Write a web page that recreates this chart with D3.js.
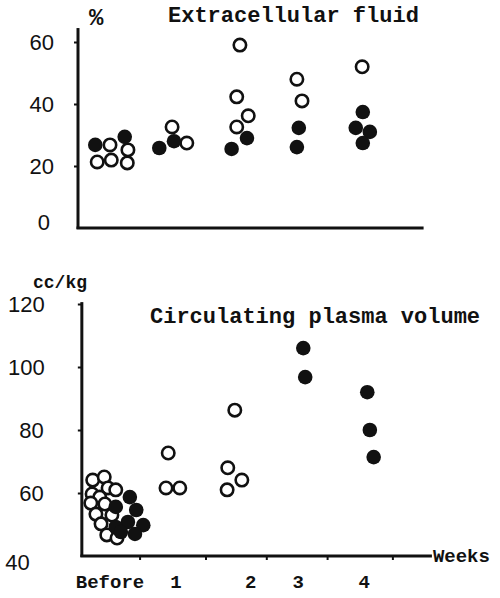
<!DOCTYPE html>
<html>
<head>
<meta charset="utf-8">
<script src="https://cdn.jsdelivr.net/npm/d3@7"></script>
<style>
  html, body { margin: 0; padding: 0; background: #fff; }
  svg { display: block; }
  .num { font-family: "Liberation Sans", "DejaVu Sans", sans-serif; font-size: 22px; fill: #111; }
  .type { font-family: "Liberation Mono", "DejaVu Sans Mono", monospace; font-weight: bold; fill: #111; }
</style>
</head>
<body>
<script>
// Extracellular fluid (% of body weight): [week, value]
const ecfOpen = [
  [0.00, 26.8], [0.28, 25.2], [-0.20, 21.3], [0.02, 21.9], [0.27, 21.0],
  [0.97, 32.6], [1.20, 27.4],
  [2.03, 59.0], [1.98, 42.3], [2.16, 36.2], [1.98, 32.6],
  [2.92, 48.0], [3.00, 41.0],
  [3.94, 52.0]
];
const ecfFilled = [
  [-0.23, 26.8], [0.23, 29.4],
  [1.00, 28.0], [0.77, 25.8],
  [2.14, 29.0], [1.90, 25.5],
  [2.95, 32.3], [2.92, 26.1],
  [3.95, 37.4], [3.84, 32.3], [4.06, 31.0], [3.95, 27.4]
];

// Circulating plasma volume (cc/kg): [week, value]
const cpvOpen = [
  [-0.27, 64.1], [-0.09, 65.1], [-0.03, 61.6], [-0.28, 59.7], [-0.16, 58.7],
  [0.09, 61.0], [-0.08, 56.5], [-0.30, 56.8], [-0.22, 53.3], [0.03, 53.0],
  [-0.14, 50.2], [-0.05, 46.7], [0.11, 45.7],
  [0.91, 72.7], [0.875, 61.6], [1.09, 61.6],
  [1.95, 86.3], [1.84, 68.0], [1.83, 61.0], [2.06, 64.1]
];
const cpvFilled = [
  [0.31, 58.7], [0.09, 55.6], [0.41, 54.6], [0.28, 50.8], [0.09, 49.2],
  [0.52, 49.8], [0.17, 47.6], [0.39, 47.0],
  [3.02, 106.0], [3.05, 96.8],
  [4.02, 92.0], [4.06, 80.0], [4.12, 71.4]
];

// Axis ticks and labels
const ecfTicks = [0, 20, 40, 60];
const cpvTicks = [40, 60, 80, 100, 120];
const weekLabels = ["Before", "1", "2", "3", "4"];
const weekLabelAt = [0.0, 1.03, 2.2, 2.94, 3.97];
const weekMinorTicks = [0.47, 1.5, 2.45, 3.4, 4.42];

const W = 500, H = 598;
const svg = d3.select("body").append("svg").attr("width", W).attr("height", H);

// Shared horizontal scale in weeks
const x = d3.scaleLinear().domain([0, 4]).range([110, 366]);

const yTop = d3.scaleLinear().domain([0, 60]).range([228, 42]);
const yBot = d3.scaleLinear().domain([40, 120]).range([556, 304]);

const R = 7;

function panel(y, yTicks, yTop0, xLeft, xRight, pad, open, filled) {
  const g = svg.append("g");
  const ax = x(xLeft);
  // vertical axis line
  g.append("line")
    .attr("x1", ax).attr("x2", ax)
    .attr("y1", y(y.domain()[0]) + 1).attr("y2", y(yTop0))
    .attr("stroke", "#111").attr("stroke-width", 3);
  // horizontal axis line
  g.append("line")
    .attr("x1", ax - 1.5).attr("x2", x(xRight))
    .attr("y1", y(y.domain()[0])).attr("y2", y(y.domain()[0]))
    .attr("stroke", "#111").attr("stroke-width", 3);

  const axis = d3.axisLeft(y).tickValues(yTicks).tickSize(4).tickSizeOuter(0).tickPadding(pad)
    .tickFormat(d3.format("d"));
  const ag = g.append("g").attr("transform", `translate(${ax},0)`).call(axis);
  ag.select(".domain").remove();
  ag.selectAll(".tick line").attr("stroke", "#111").attr("stroke-width", 2);
  ag.selectAll(".tick text").attr("class", "num").attr("fill", null);
  ag.selectAll(".tick").filter(d => d === y.domain()[0]).select("line").remove();

  g.selectAll("circle.open").data(open).join("circle")
    .attr("class", "open")
    .attr("cx", d => x(d[0])).attr("cy", d => y(d[1])).attr("r", R - 0.8)
    .attr("fill", "#fff").attr("stroke", "#111").attr("stroke-width", 2.6);
  g.selectAll("circle.filled").data(filled).join("circle")
    .attr("class", "filled")
    .attr("cx", d => x(d[0])).attr("cy", d => y(d[1])).attr("r", R + 0.3)
    .attr("fill", "#111");
  return ag;
}

// Upper panel: extracellular fluid
const topAxis = panel(yTop, ecfTicks, 64.5, -0.5, 4.9, 20, ecfOpen, ecfFilled);
topAxis.selectAll(".tick").filter(d => d === 0).select("text")
  .attr("x", -28).attr("dy", "0.05em");

svg.append("text").attr("class", "type")
  .attr("x", 89).attr("y", 25).style("font-size", "24px").text("%");
svg.append("text").attr("class", "type")
  .attr("x", 168).attr("y", 22).style("font-size", "22px").text("Extracellular fluid");

// Lower panel: circulating plasma volume
const botAxis = panel(yBot, cpvTicks, 120.6, -0.44, 5.03, 34, cpvOpen, cpvFilled);
botAxis.selectAll(".tick").filter(d => d === 40).select("text")
  .attr("x", -52).attr("dy", "0.6em");
botAxis.selectAll(".tick").filter(d => d === 120 || d === 100).select("text")
  .attr("x", -37);

// minor ticks along the weeks axis
svg.append("g").selectAll("line").data(weekMinorTicks).join("line")
  .attr("x1", d => x(d)).attr("x2", d => x(d))
  .attr("y1", yBot(40)).attr("y2", yBot(40) + 4)
  .attr("stroke", "#111").attr("stroke-width", 2);

svg.append("g").selectAll("text").data(weekLabels).join("text")
  .attr("class", "type")
  .attr("x", (d, i) => x(weekLabelAt[i]))
  .attr("y", 588)
  .attr("text-anchor", "middle")
  .style("font-size", "19px")
  .text(d => d);

svg.append("text").attr("class", "type")
  .attr("x", x(5.03) + 1).attr("y", yBot(40) + 6)
  .style("font-size", "19px").text("Weeks");

svg.append("text").attr("class", "type")
  .attr("x", 33).attr("y", 288).style("font-size", "18px").text("cc/kg");

svg.append("text").attr("class", "type")
  .attr("x", 150).attr("y", 323).style("font-size", "22px").text("Circulating plasma volume");
</script>
</body>
</html>
